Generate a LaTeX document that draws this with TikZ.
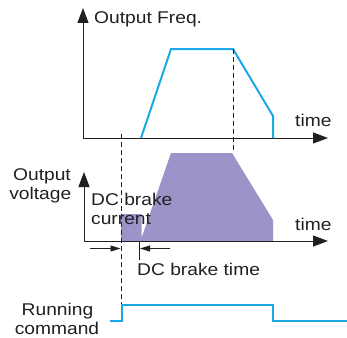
\documentclass[tikz,border=0pt]{standalone}
\usepackage{fontspec}
\setmainfont{Liberation Sans}[FakeStretch=1.13]
\usetikzlibrary{arrows.meta}
\definecolor{freqblue}{RGB}{28,168,230}
\definecolor{voltpurple}{RGB}{156,148,201}
\definecolor{txt}{RGB}{35,31,32}
\begin{document}
\begin{tikzpicture}[x=1pt,y=-1pt,
  font=\fontsize{17}{19}\selectfont,
  axis/.style={line width=1pt, draw=txt, -{Triangle[length=15pt,width=11pt]}},
  guide/.style={line width=1pt, draw=txt, dash pattern=on 5pt off 3pt},
  sig/.style={draw=freqblue, line width=2pt, line join=miter},
  dim/.style={line width=0.9pt, draw=txt, -{Triangle[length=10pt,width=6pt]}},
  lbl/.style={inner sep=0pt, text=txt}]
\useasboundingbox (0,0) rectangle (347,337);
% coordinates
\coordinate (o1) at (83,138);
\coordinate (y1) at (83,8);
\coordinate (x1) at (328,138);
\coordinate (o2) at (84,241);
\coordinate (y2) at (84,172);
\coordinate (x2) at (328,241);
\coordinate (g1a) at (121,134);
\coordinate (g1b) at (121,305);
\coordinate (g2a) at (233,49);
\coordinate (g2b) at (233,153);
\coordinate (la) at (90,248.5);
\coordinate (lb) at (120.5,248.5);
\coordinate (ra) at (170,248.5);
\coordinate (rb) at (140,248.5);
\coordinate (ta) at (139,242);
\coordinate (tb) at (139,260);
% purple output voltage
\fill[voltpurple] (121,241) -- (121,214) -- (141.5,214) -- (141.5,238) -- (171,153) -- (232,153) -- (273,220) -- (273,241) -- cycle;
% labels
\node[lbl, anchor=base west] (of) at (94,24) {Output Freq.};
\node[lbl, anchor=base west] (t1) at (295,126) {time};
\node[lbl, anchor=base west] (t2) at (295,230) {time};
\node[lbl, anchor=base east] (ov1) at (71,180.5) {Output};
\node[lbl, anchor=base east] (ov2) at (71.5,199.5) {voltage};
\node[lbl, anchor=base west] (dc1) at (91,205) {DC brake};
\node[lbl, anchor=base west] (dc2) at (91,224) {current};
\node[lbl, anchor=base west] (dct) at (137,275) {DC brake time};
\node[lbl, anchor=base] (rc1) at (57.5,315.5) {Running};
\node[lbl, anchor=base] (rc2) at (57,334) {command};
% axes
\draw[axis] (o1) -- (y1);
\draw[axis] (o1) -- (x1);
\draw[axis] (o2) -- (y2);
\draw[axis] (o2) -- (x2);
% frequency
\draw[sig] (141,138) -- (171,49) -- (233,49) -- (273,116) -- (273,138);
% guides
\draw[guide] (g1a) -- (g1b);
\draw[guide] (g2a) -- (g2b);
% dimension arrows
\draw[dim] (la) -- (lb);
\draw[dim] (ra) -- (rb);
\draw[line width=0.9pt, draw=txt] (ta) -- (tb);
% running command
\draw[sig] (110,321) -- (122,321) -- (122,305) -- (273,305) -- (273,321) -- (347,321);
\end{tikzpicture}
\end{document}
